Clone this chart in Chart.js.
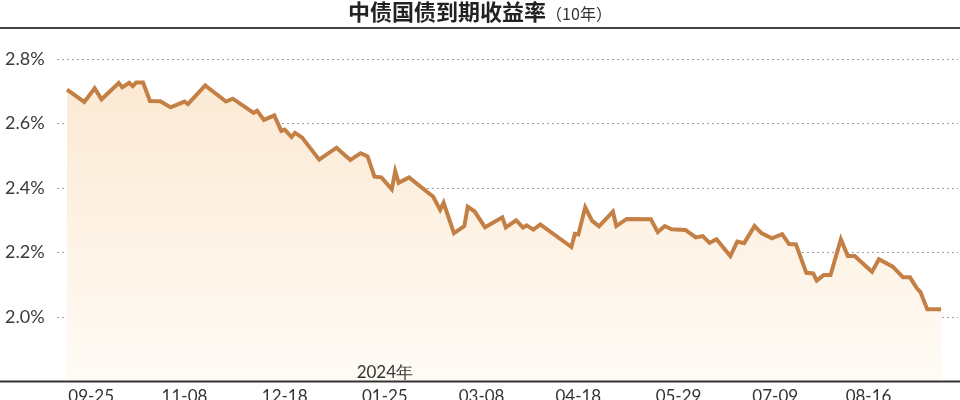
<!DOCTYPE html>
<html>
<head>
<meta charset="utf-8">
<script src="https://cdn.jsdelivr.net/npm/chart.js@4.4.1/dist/chart.umd.min.js"></script>
<style>
  html, body { margin: 0; padding: 0; background: #fff; }
  #wrap { width: 960px; height: 400px; }
</style>
</head>
<body>
<div id="wrap"><canvas id="yield-chart" width="960" height="400"></canvas></div>
<script>
// trading-day index of each vertex and the 10y yield (%) there
const dayIndex = [
  0, 5, 8, 10, 15, 16, 18, 19, 20, 22, 24, 27, 30, 34, 35, 40, 46, 48, 54, 55,
  57, 60, 62, 63, 65, 66, 68, 73, 78, 82, 85, 87, 89, 91, 94, 95, 96, 99, 106, 108,
  109, 112, 115, 116, 118, 121, 126, 127, 130, 132, 133, 135, 137, 146, 147, 148, 150, 152, 154, 158,
  159, 162, 169, 171, 173, 175, 179, 182, 184, 186, 188, 192, 194, 196, 199, 201, 204, 207, 209, 211,
  214, 216, 217, 219, 221, 224, 226, 228, 233, 235, 239, 242, 244, 246, 247, 249, 253
];
const yieldPct = [
  2.705, 2.667, 2.709, 2.675, 2.726, 2.712, 2.726, 2.716, 2.727, 2.727, 2.670, 2.669, 2.650, 2.668, 2.660, 2.718, 2.668, 2.677, 2.633, 2.640,
  2.611, 2.625, 2.577, 2.581, 2.558, 2.571, 2.557, 2.488, 2.525, 2.487, 2.508, 2.498, 2.435, 2.433, 2.396, 2.452, 2.416, 2.433, 2.373, 2.332,
  2.354, 2.260, 2.282, 2.342, 2.327, 2.278, 2.309, 2.278, 2.300, 2.277, 2.284, 2.271, 2.287, 2.217, 2.258, 2.256, 2.340, 2.298, 2.281, 2.327,
  2.282, 2.304, 2.303, 2.263, 2.282, 2.272, 2.270, 2.247, 2.251, 2.230, 2.241, 2.189, 2.234, 2.229, 2.282, 2.260, 2.244, 2.257, 2.226, 2.225,
  2.137, 2.135, 2.113, 2.130, 2.130, 2.241, 2.189, 2.189, 2.140, 2.179, 2.156, 2.123, 2.123, 2.089, 2.078, 2.024, 2.024
];

// x-axis tick labels and the trading day they sit on
const tickDays = [7, 34, 63, 92, 120, 148, 177, 205, 232];
const tickLabels = ["09-25", "11-08", "12-18", "01-25", "03-08", "04-18", "05-29", "07-09", "08-16"];
const yTicks = [2.0, 2.2, 2.4, 2.6, 2.8];

const yearMark = { day: 92, text: "2024年" };
const titleMain = "中债国债到期收益率";
const titleSub = "（10年）";

const points = dayIndex.map((d, i) => ({ x: d, y: yieldPct[i] }));

const frame = {
  id: "frame",
  afterDraw(chart) {
    const { ctx, chartArea, width } = chart;
    ctx.save();
    // title
    ctx.textBaseline = "middle";
    ctx.font = "bold 22px 'Noto Sans CJK SC'";
    const w1 = ctx.measureText(titleMain).width;
    ctx.font = "16px 'Noto Sans CJK SC'";
    const w2 = ctx.measureText(titleSub).width;
    let x = width / 2 - (w1 + w2) / 2;
    ctx.fillStyle = "#222";
    ctx.textAlign = "left";
    ctx.font = "bold 22px 'Noto Sans CJK SC'";
    ctx.fillText(titleMain, x, 12);
    ctx.font = "16px 'Noto Sans CJK SC'";
    ctx.fillStyle = "#333";
    ctx.fillText(titleSub, x + w1, 14);
    // rule under the title
    ctx.strokeStyle = "#444";
    ctx.lineWidth = 2;
    ctx.beginPath();
    ctx.moveTo(0, 28);
    ctx.lineTo(width, 28);
    ctx.stroke();
    // x axis line across the whole width
    ctx.strokeStyle = "#333";
    ctx.lineWidth = 2;
    ctx.beginPath();
    ctx.moveTo(0, chartArea.bottom);
    ctx.lineTo(width, chartArea.bottom);
    ctx.stroke();
    // year marker above the first tick of 2024
    const xs = chart.scales.x;
    ctx.font = "17px Lato";
    ctx.fillStyle = "#333";
    ctx.textAlign = "center";
    ctx.fillText(yearMark.text, xs.getPixelForValue(yearMark.day), chartArea.bottom - 9);
    ctx.restore();
  }
};

new Chart(document.getElementById("yield-chart"), {
  type: "line",
  data: {
    datasets: [{
      data: points,
      borderColor: "#c47f45",
      borderWidth: 4,
      borderJoinStyle: "miter",
      pointRadius: 0,
      tension: 0,
      fill: "start",
      backgroundColor(context) {
        const area = context.chart.chartArea;
        if (!area) return "#fcecd9";
        const g = context.chart.ctx.createLinearGradient(0, area.top, 0, area.bottom);
        g.addColorStop(0, "#fbe8d1");
        g.addColorStop(1, "#fffbf5");
        return g;
      }
    }]
  },
  options: {
    responsive: false,
    animation: false,
    layout: { padding: { left: 5, right: 2, top: 59, bottom: 0 } },
    plugins: { legend: { display: false }, tooltip: { enabled: false }, title: { display: false } },
    scales: {
      x: {
        type: "linear",
        min: -2.9,
        max: 257.9,
        afterBuildTicks(scale) { scale.ticks = tickDays.map(v => ({ value: v })); },
        afterFit(scale) { scale.height = 18.5; },
        grid: { display: false, drawTicks: false },
        border: { display: false },
        ticks: {
          padding: 7,
          maxRotation: 0,
          autoSkip: false,
          color: "#333",
          font: { family: "Lato", size: 17, lineHeight: 1 },
          callback(value) {
            const i = tickDays.indexOf(value);
            return i >= 0 ? tickLabels[i] : "";
          }
        }
      },
      y: {
        min: 1.8,
        max: 2.8,
        afterBuildTicks(scale) { scale.ticks = yTicks.map(v => ({ value: v })); },
        afterFit(scale) { scale.width = 52; },
        border: { display: false, dash: [2, 3] },
        grid: {
          color: "#a0a0a0",
          lineWidth: 1,
          drawTicks: false
        },
        ticks: {
          crossAlign: "far",
          padding: 0,
          color: "#3a3a3a",
          font: { family: "Lato", size: 18 },
          callback(value) { return value.toFixed(1) + "%"; }
        }
      }
    }
  },
  plugins: [frame]
});
</script>
</body>
</html>
